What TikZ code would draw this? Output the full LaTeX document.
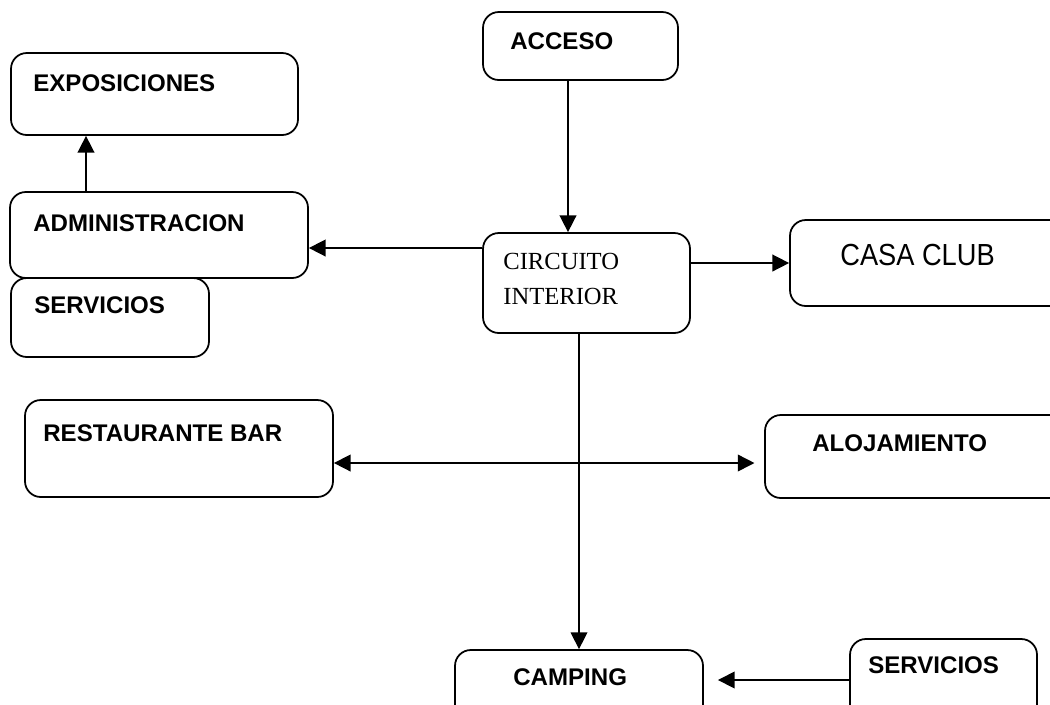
\documentclass[tikz,border=0pt]{standalone}
\usepackage{fontspec}
\setmainfont{Liberation Serif}
\newfontfamily\arialfont{Liberation Sans}
\usetikzlibrary{arrows.meta}
\begin{document}
\begin{tikzpicture}[x=0.02cm,y=-0.02cm,
  box/.style={draw,line width=1pt,rounded corners=9pt,inner sep=0pt},
  lab/.style={anchor=west,inner sep=0pt,font=\arialfont\fontsize{13.7}{16}\selectfont\bfseries},
  tip/.style={Triangle[length=9.5pt,width=9.5pt]},
  conn/.style={line width=0.9pt,-{Triangle[length=9.5pt,width=9.5pt]}},
  thin/.style={line width=0.6pt}]
\useasboundingbox (0,0) rectangle (1050,704);
\clip (0,0) rectangle (1050,704);
% boxes
\node[box,minimum width=287*0.02cm,minimum height=82*0.02cm] (expo) at (154.5,94) {};
\node[box,minimum width=298*0.02cm,minimum height=86*0.02cm] (admin) at (159,235) {};
\node[box,minimum width=198*0.02cm,minimum height=79*0.02cm] (serv1) at (110,317.5) {};
\node[box,minimum width=195*0.02cm,minimum height=68*0.02cm] (acc) at (580.5,46) {};
\node[box,minimum width=207*0.02cm,minimum height=100*0.02cm] (circ) at (586.5,283) {};
\node[box,minimum width=290*0.02cm,minimum height=86*0.02cm] (casa) at (935,263) {};
\node[box,minimum width=308*0.02cm,minimum height=97*0.02cm] (rest) at (179,448.5) {};
\node[box,minimum width=315*0.02cm,minimum height=83*0.02cm] (aloj) at (922.5,456.5) {};
\node[box,minimum width=248*0.02cm,minimum height=80*0.02cm] (camp) at (579,690) {};
\node[box,minimum width=187*0.02cm,minimum height=90*0.02cm] (serv2) at (943.5,684) {};
% texts
\node[lab] (texpo) at (33,83) {EXPOSICIONES};
\node[lab] (tadmin) at (33,223) {ADMINISTRACION};
\node[lab] (tserv1) at (34,305) {SERVICIOS};
\node[lab] (tacc) at (510,41) {ACCESO};
\node[anchor=west,inner sep=0pt,align=left,font=\fontsize{14}{20}\selectfont] (tcirc) at (503,279) {CIRCUITO\\INTERIOR};
\node[anchor=west,inner sep=0pt,font=\arialfont\fontsize{15.5}{18}\selectfont] (tcasa) at (840,255) {\scalebox{1}[1.12]{CASA CLUB}};
\node[lab] (trest) at (43,433) {RESTAURANTE BAR};
\node[lab] (taloj) at (812,443) {ALOJAMIENTO};
\node[lab] (tcamp) at (513,677) {CAMPING};
\node[lab] (tserv2) at (868,665) {SERVICIOS};
% helper coordinates
\coordinate (xacc) at (568,0);
\coordinate (xadm) at (86,0);
\coordinate (xmid) at (579,0);
\coordinate (yadm) at (0,248);
\coordinate (ycasa) at (0,263);
\coordinate (yrest) at (0,463);
\coordinate (ycamp) at (0,680);
% connectors
\draw[conn] (xacc |- acc.south) -- (xacc |- circ.north);
\draw[conn] (circ.west |- yadm) -- (admin.east |- yadm);
\draw[conn] (circ.east |- ycasa) -- (casa.west |- ycasa);
\draw[conn] (xadm |- admin.north) -- (xadm |- expo.south);
\draw[conn,line width=0.7pt] (xmid |- circ.south) -- (xmid |- camp.north);
\draw[line width=0.9pt,{Triangle[length=9.5pt,width=9.5pt]}-{Triangle[length=9.5pt,width=9.5pt]},shorten >=5.5pt] (rest.east |- yrest) -- (aloj.west |- yrest);
\draw[conn,shorten >=8pt] (serv2.west |- ycamp) -- (camp.east |- ycamp);
\end{tikzpicture}
\end{document}
